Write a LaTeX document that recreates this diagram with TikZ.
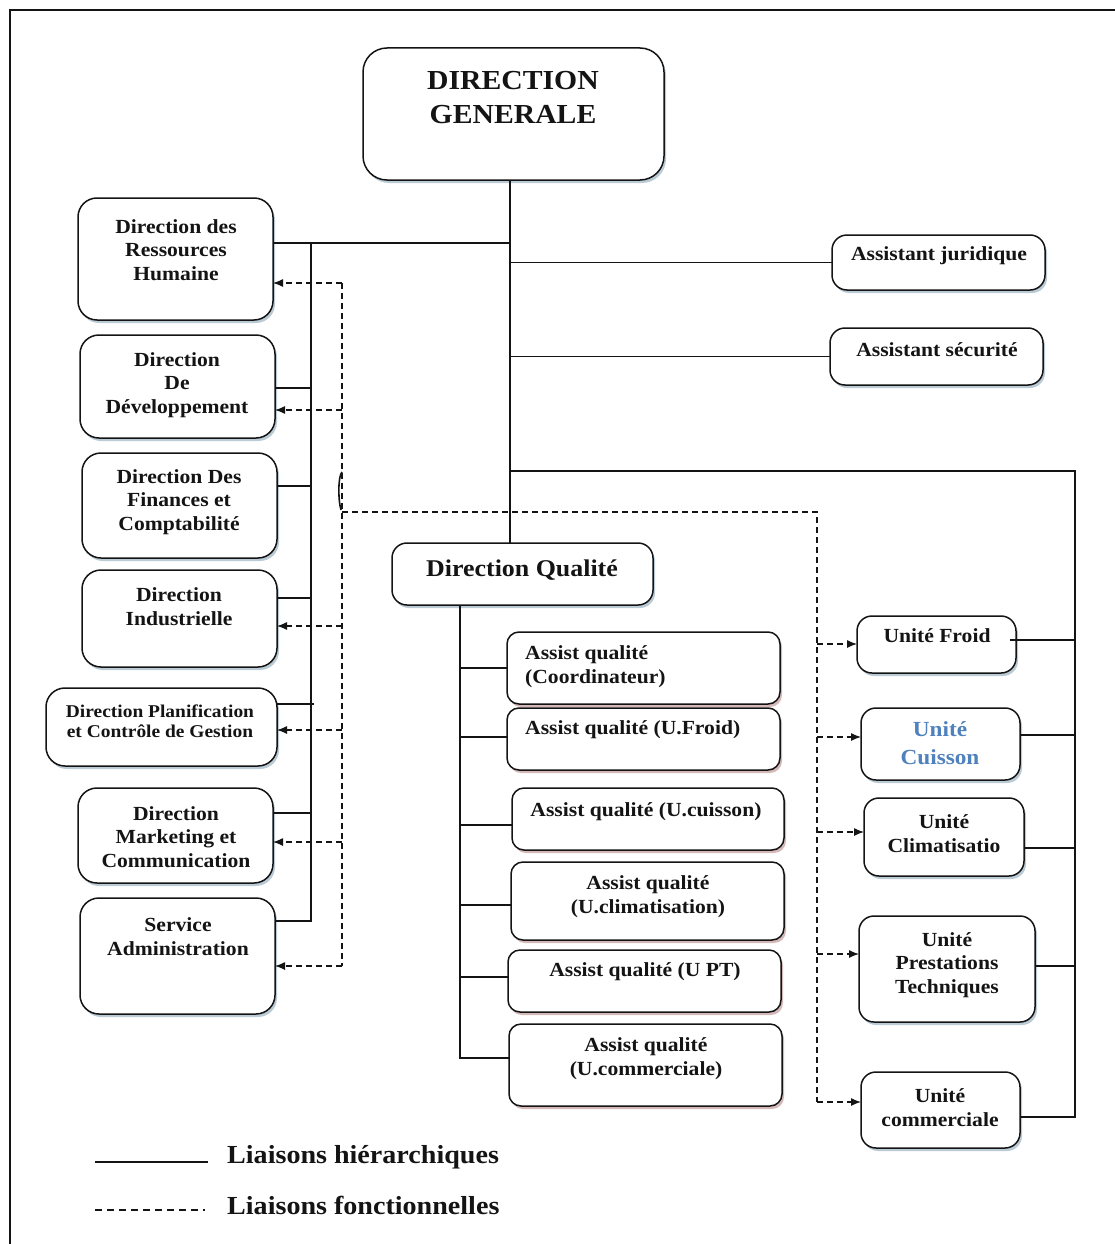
\documentclass[tikz,border=0pt]{standalone}
\usepackage{fontspec}
\setmainfont[FakeStretch=1.08]{Liberation Serif}
\usetikzlibrary{arrows.meta,shadows}

\definecolor{ink}{HTML}{141414}
\definecolor{cuisson}{HTML}{4F81BD}
\definecolor{shblue}{HTML}{8FA9BC}
\definecolor{shred}{HTML}{B98A8A}

\tikzset{
  boxbase/.style={draw=ink, line width=1.5pt, fill=white, inner sep=0pt, outer sep=0pt},
  blueshadow/.style={drop shadow={shadow xshift=2pt, shadow yshift=-3pt, fill=shblue, opacity=0.6}},
  redshadow/.style={drop shadow={shadow xshift=2pt, shadow yshift=-3pt, fill=shred, opacity=0.6}},
  topbox/.style={boxbase, blueshadow, rounded corners=24pt},
  dirbox/.style={boxbase, blueshadow, rounded corners=19pt},
  unitbox/.style={boxbase, blueshadow, rounded corners=15pt},
  qualbox/.style={boxbase, redshadow, rounded corners=12pt},
  txt/.style={font=\bfseries\fontsize{20}{23.8}\selectfont, align=center, text=ink, inner sep=0pt},
  smalltxt/.style={font=\bfseries\fontsize{18}{20.5}\selectfont, align=center, text=ink, inner sep=0pt},
  bigtxt/.style={font=\bfseries\fontsize{27.5}{34}\selectfont, align=center, text=ink, inner sep=0pt},
  dqtxt/.style={font=\bfseries\fontsize{24}{28}\selectfont, align=center, text=ink, inner sep=0pt},
  legtxt/.style={font=\bfseries\fontsize{26}{30}\selectfont, text=ink, inner sep=0pt, anchor=west},
  hier/.style={draw=ink, line width=1.3pt},
  func/.style={draw=ink, line width=1.2pt, dash pattern=on 6pt off 4pt},
  funcarrow/.style={func, -{Latex[length=10pt,width=8pt]}},
}

% box given by its corners: name, style, x1, y1, x2, y2
\newcommand\orgnode[6]{%
  \node[#2, minimum width={(#5)-(#3)}, minimum height={(#6)-(#4)}]
    (#1) at ({((#3)+(#5))/2},{((#4)+(#6))/2}) {};}

\begin{document}
\begin{tikzpicture}[x=1pt, y=-1pt]
\useasboundingbox (0,0) rectangle (1115,1244);
\clip (0,0) rectangle (1115,1244);
\fill[white] (0,0) rectangle (1115,1244);

% outer frame
\draw[ink, line width=2pt] (10,10) rectangle (1140,1270);

% ---------- boxes ----------
\orgnode{dg}{topbox}{363}{48}{664}{180}
\orgnode{drh}{dirbox}{78}{198}{273}{320}
\orgnode{dd}{dirbox}{80}{335}{275}{438}
\orgnode{dfc}{dirbox}{82}{453}{277}{558}
\orgnode{di}{dirbox}{82}{570}{277}{667}
\orgnode{dpcg}{dirbox}{46}{688}{277}{766}
\orgnode{dmc}{dirbox}{78}{788}{273}{883}
\orgnode{sa}{dirbox}{80}{898}{275}{1014}
\orgnode{aj}{unitbox}{832}{235}{1045}{290}
\orgnode{as}{unitbox}{830}{328}{1043}{385}
\orgnode{dq}{unitbox}{392}{543}{653}{605}
\orgnode{qa}{qualbox}{507}{632}{780}{704}
\orgnode{qb}{qualbox}{507}{708}{780}{770}
\orgnode{qc}{qualbox}{512}{788}{784}{850}
\orgnode{qd}{qualbox}{511}{862}{784}{940}
\orgnode{qe}{qualbox}{508}{950}{781}{1012}
\orgnode{qf}{qualbox}{509}{1024}{782}{1106}
\orgnode{uf}{unitbox}{857}{616}{1016}{673}
\orgnode{uc}{unitbox}{861}{708}{1020}{780}
\orgnode{ucl}{unitbox}{864}{798}{1024}{876}
\orgnode{upt}{unitbox}{859}{916}{1035}{1022}
\orgnode{ucom}{unitbox}{861}{1072}{1020}{1148}

% ---------- labels ----------
\node[bigtxt] (dg-t) at (513,98) {DIRECTION\\GENERALE};
\node[txt] (drh-t) at (176,250) {Direction des\\Ressources\\Humaine};
\node[txt] (dd-t) at (177,385) {Direction\\De\\Développement};
\node[txt] (dfc-t) at (179,502) {Direction Des\\Finances et\\Comptabilité};
\node[txt] (di-t) at (179,607) {Direction\\Industrielle};
\node[smalltxt] (dpcg-t) at (160,721) {Direction Planification\\et Contrôle de Gestion};
\node[txt] (dmc-t) at (176,837) {Direction\\Marketing et\\Communication};
\node[txt] (sa-t) at (178,937) {Service\\Administration};
\node[txt] (aj-t) at (939,256) {Assistant juridique};
\node[txt] (as-t) at (937,350) {Assistant sécurité};
\node[dqtxt] (dq-t) at (522,570) {Direction Qualité};
\node[txt, align=left, anchor=west] (qa-t) at (525,667) {Assist qualité\\(Coordinateur)};
\node[txt, anchor=west] (qb-t) at (525,730) {Assist qualité (U.Froid)};
\node[txt] (qc-t) at (646,812) {Assist qualité (U.cuisson)};
\node[txt] (qd-t) at (648,897) {Assist qualité\\(U.climatisation)};
\node[txt] (qe-t) at (645,972) {Assist qualité (U PT)};
\node[txt] (qf-t) at (646,1059) {Assist qualité\\(U.commerciale)};
\node[txt] (uf-t) at (937,636) {Unité Froid};
\node[txt, text=cuisson, font=\bfseries\fontsize{21.5}{28}\selectfont] (uc-t) at (940,743) {Unité\\Cuisson};
\node[txt] (ucl-t) at (944,834) {Unité\\Climatisatio};
\node[txt] (upt-t) at (947,965) {Unité\\Prestations\\Techniques};
\node[txt] (ucom-t) at (940,1108) {Unité\\commerciale};

% ---------- hierarchical links ----------
\coordinate (tk) at (510,243);
\coordinate (lb) at (311,243);
\coordinate (rb) at (1075,471);
\coordinate (qbus) at (460,605);

\draw[hier] (tk |- dg.south) -- (tk |- dq.north);
\draw[hier] (drh.east |- tk) -- (tk);
\draw[hier] (lb) -- (lb |- 0,921) -- (sa.east |- 0,921);
\draw[hier] (dd.east |- 0,388) -- (lb |- 0,388);
\draw[hier] (dfc.east |- 0,486) -- (lb |- 0,486);
\draw[hier] (di.east |- 0,598) -- (lb |- 0,598);
\draw[hier] (dpcg.east |- 0,704) -- (314,704);
\draw[hier] (dmc.east |- 0,813) -- (lb |- 0,813);

\draw[hier] (tk |- aj.west) -- (aj.west);
\draw[hier] (tk |- as.west) -- (as.west);

\draw[hier] (tk |- rb) -- (rb) -- (rb |- 0,1117) -- (ucom.east |- 0,1117);
\draw[hier] (1010,640) -- (rb |- 0,640);
\draw[hier] (uc.east |- 0,735) -- (rb |- 0,735);
\draw[hier] (ucl.east |- 0,848) -- (rb |- 0,848);
\draw[hier] (upt.east |- 0,966) -- (rb |- 0,966);

\draw[hier] (qbus |- dq.south) -- (qbus |- 0,1058) -- (qf.west |- 0,1058);
\draw[hier] (qbus |- qa.west) -- (qa.west);
\draw[hier] (qbus |- 0,737) -- (qb.west |- 0,737);
\draw[hier] (qbus |- 0,825) -- (qc.west |- 0,825);
\draw[hier] (qbus |- 0,905) -- (qd.west |- 0,905);
\draw[hier] (qbus |- 0,977) -- (qe.west |- 0,977);

% ---------- functional links ----------
\coordinate (fl) at (342,283);
\coordinate (fr) at (817,512);

\draw[func] (fl) -- (fl |- 0,966);
\draw[func] (fl |- fr) -- (fr) -- (fr |- 0,1102);
\draw[ink, line width=1.6pt] (342,472) .. controls (338,476) and (338,500) .. (341,510);

\draw[funcarrow] (fl) -- (drh.east |- fl);
\draw[funcarrow] (fl |- 0,410) -- (dd.east |- 0,410);
\draw[funcarrow] (fl |- 0,626) -- (di.east |- 0,626);
\draw[funcarrow] (fl |- 0,730) -- (dpcg.east |- 0,730);
\draw[funcarrow] (fl |- 0,842) -- (dmc.east |- 0,842);
\draw[funcarrow] (fl |- 0,966) -- (sa.east |- 0,966);

\draw[funcarrow] (fr |- 0,644) -- (uf.west |- 0,644);
\draw[funcarrow] (fr |- 0,737) -- (uc.west |- 0,737);
\draw[funcarrow] (fr |- 0,832) -- (ucl.west |- 0,832);
\draw[funcarrow] (fr |- 0,954) -- (upt.west |- 0,954);
\draw[funcarrow] (fr |- 0,1102) -- (ucom.west |- 0,1102);

% ---------- legend ----------
\coordinate (la1) at (95,1162);
\coordinate (la2) at (208,1162);
\coordinate (lb1) at (95,1210);
\coordinate (lb2) at (205,1210);
\draw[hier] (la1) -- (la2);
\draw[ink, line width=1.2pt, dash pattern=on 7pt off 5pt] (lb1) -- (lb2);
\node[legtxt] (leg-h) at (227,1157) {Liaisons hiérarchiques};
\node[legtxt] (leg-f) at (227,1205) {Liaisons fonctionnelles};
\end{tikzpicture}
\end{document}
